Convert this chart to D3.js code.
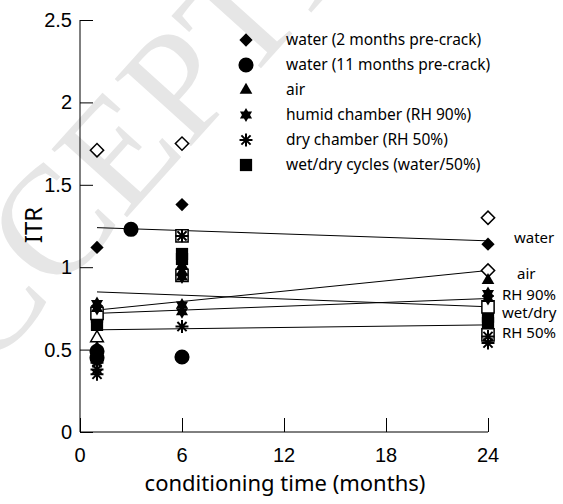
<!DOCTYPE html>
<html><head><meta charset="utf-8">
<script src="https://cdn.jsdelivr.net/npm/d3@7"></script>
<style>body{margin:0;background:#fff}svg{display:block}</style>
</head><body>
<script>
// ---------- data ----------
const xTicks = [0, 6, 12, 18, 24];
const yTicks = [0, 0.5, 1, 1.5, 2, 2.5];
const yTickLabels = ["0", "0.5", "1", "1.5", "2", "2.5"];

const diamondX = [1, 6, 24];
const diamondY = [1.12, 1.38, 1.14];
const openDiamondX = [1, 6, 24, 24];
const openDiamondY = [1.71, 1.75, 1.30, 0.98];
const circleX = [1, 1, 3, 6];
const circleY = [0.45, 0.49, 1.23, 0.455];
const triangleX = [1, 6, 6, 24];
const triangleY = [0.51, 1.01, 0.97, 0.92];
const openTriangleX = [1];
const openTriangleY = [0.57];
const starX = [1, 1, 6, 6, 6, 24, 24];
const starY = [0.78, 0.75, 0.77, 0.73, 0.94, 0.84, 0.81];
const asteriskX = [1, 1, 1, 6, 6, 24, 24];
const asteriskY = [0.42, 0.38, 0.35, 0.64, 1.19, 0.58, 0.54];
const squareX = [1, 1, 6, 6, 24, 24];
const squareY = [0.70, 0.65, 1.08, 1.05, 0.70, 0.66];
const openSquareX = [1, 6, 6, 24, 24];
const openSquareY = [0.72, 1.19, 0.95, 0.76, 0.59];

const lineNames = ["water", "air", "RH 90%", "wet/dry", "RH 50%"];
const lineX0 = 1, lineX1 = 24;
const lineStart = [1.24, 0.74, 0.72, 0.85, 0.62];
const lineEnd = [1.16, 0.98, 0.81, 0.76, 0.65];
const lineLabelY = [1.18, 0.96, 0.83, 0.72, 0.60];

const legendLabels = ["water (2 months pre-crack)", "water (11 months pre-crack)", "air",
  "humid chamber (RH 90%)", "dry chamber (RH 50%)", "wet/dry cycles (water/50%)"];

// ---------- setup ----------
const W = 563, H = 504;
const svg = d3.select("body").append("svg").attr("width", W).attr("height", H);
const x = d3.scaleLinear().domain([0, 24]).range([80, 488]);
const y = d3.scaleLinear().domain([0, 2.5]).range([432, 20]);
const textFont = "'Comic Sans MS','Noto Sans',sans-serif";

// watermark
svg.append("text").attr("transform", "translate(140,125) rotate(-48)")
  .attr("text-anchor", "middle").attr("dominant-baseline", "central")
  .attr("font-family", "'Liberation Serif',serif").attr("font-size", 155)
  .attr("fill", "#e6e6e6").text("ACCEPTED");

// custom symbol types
const star6 = { draw(ctx, size) {
  const r = Math.sqrt(size), ri = r / Math.sqrt(3);
  for (let i = 0; i < 12; i++) {
    const a = -Math.PI / 2 + i * Math.PI / 6, rr = i % 2 ? ri : r;
    const px = rr * Math.cos(a), py = rr * Math.sin(a);
    i ? ctx.lineTo(px, py) : ctx.moveTo(px, py);
  }
  ctx.closePath();
}};
const asterisk = { draw(ctx, size) {
  const r = Math.sqrt(size);
  for (let i = 0; i < 4; i++) {
    const a = i * Math.PI / 4;
    ctx.moveTo(r * Math.cos(a), r * Math.sin(a));
    ctx.lineTo(-r * Math.cos(a), -r * Math.sin(a));
  }
}};

const sym = {
  diamond: d3.symbol().type(d3.symbolSquare).size(88),
  circle: d3.symbol().type(d3.symbolCircle).size(180),
  triangle: d3.symbol().type(d3.symbolTriangle).size(70),
  star: d3.symbol().type(star6).size(49),
  asterisk: d3.symbol().type(asterisk).size(42),
  square: d3.symbol().type(d3.symbolSquare).size(150)
};

// axes
const gx = svg.append("g").attr("transform", "translate(0,432)")
  .call(d3.axisTop(x).tickValues(xTicks).tickSize(14).tickFormat(""));
gx.select(".domain").attr("d", `M${x(0)},0H${x(24)}`);
const gy = svg.append("g").attr("transform", "translate(80,0)")
  .call(d3.axisRight(y).tickValues(yTicks).tickSize(13).tickFormat(""));
gy.select(".domain").attr("d", `M0,${y(0)}V${y(2.5)}`);
svg.selectAll(".domain, .tick line").attr("stroke", "#000").attr("stroke-width", 1);

svg.append("g").selectAll("text").data(xTicks).join("text")
  .attr("x", d => x(d)).attr("y", 462).attr("text-anchor", "middle")
  .attr("font-family", "'Liberation Sans',Arial,sans-serif").attr("font-size", 20)
  .text(d => d);
svg.append("g").selectAll("text").data(yTicks).join("text")
  .attr("x", 72).attr("y", d => y(d) + 7).attr("text-anchor", "end")
  .attr("font-family", "'Liberation Sans',Arial,sans-serif").attr("font-size", 20)
  .text((d, i) => yTickLabels[i]);

svg.append("text").attr("x", 285).attr("y", 491).attr("text-anchor", "middle")
  .attr("font-family", textFont).attr("font-size", 22).text("conditioning time (months)");
svg.append("text").attr("transform", "translate(42,225) rotate(-90)").attr("text-anchor", "middle")
  .attr("font-family", textFont).attr("font-size", 24).text("ITR");

// regression lines
svg.append("g").selectAll("line").data(lineNames).join("line")
  .attr("x1", x(lineX0)).attr("x2", x(lineX1))
  .attr("y1", (d, i) => y(lineStart[i])).attr("y2", (d, i) => y(lineEnd[i]))
  .attr("stroke", "#000").attr("stroke-width", 1);

// points
function plot(xs, ys, gen, opts) {
  const g = svg.append("g");
  g.selectAll("path").data(xs).join("path")
    .attr("d", gen())
    .attr("transform", (d, i) => `translate(${x(d)},${y(ys[i])})` + (opts.rot ? " rotate(45)" : ""))
    .attr("fill", opts.fill).attr("stroke", opts.stroke || "none")
    .attr("stroke-width", opts.sw || 0);
}
plot(openDiamondX, openDiamondY, sym.diamond, { fill: "#fff", stroke: "#000", sw: 1.5, rot: true });
plot(squareX, squareY, sym.square, { fill: "#000" });
plot(openSquareX, openSquareY, sym.square, { fill: "#fff", stroke: "#000", sw: 1.5 });
plot(triangleX, triangleY, sym.triangle, { fill: "#000" });
plot(openTriangleX, openTriangleY, sym.triangle, { fill: "#fff", stroke: "#000", sw: 1.5 });
plot(starX, starY, sym.star, { fill: "#000" });
plot(asteriskX, asteriskY, sym.asterisk, { fill: "none", stroke: "#000", sw: 2 });
plot(circleX, circleY, sym.circle, { fill: "#000" });
plot(diamondX, diamondY, sym.diamond, { fill: "#000", rot: true });

// line labels
svg.append("g").selectAll("text").data(lineNames).join("text")
  .attr("x", (d, i) => i === 0 ? 514 : i === 1 ? 517 : 502)
  .attr("y", (d, i) => y(lineLabelY[i]) + 5)
  .attr("font-family", textFont).attr("font-size", 15).text(d => d);

// legend
const legendSyms = [["diamond", true], ["circle"], ["triangle"], ["star"], ["asterisk"], ["square"]];
const lg = svg.append("g");
legendLabels.forEach((lab, i) => {
  const yy = 40 + i * 25;
  const [k, rot] = legendSyms[i];
  const isAst = k === "asterisk";
  lg.append("path").attr("d", sym[k]())
    .attr("transform", `translate(246,${yy})` + (rot ? " rotate(45)" : ""))
    .attr("fill", isAst ? "none" : "#000").attr("stroke", isAst ? "#000" : "none")
    .attr("stroke-width", isAst ? 2 : 0);
  lg.append("text").attr("x", 286).attr("y", yy + 5)
    .attr("font-family", textFont).attr("font-size", 15.5).text(lab);
});
</script>
</body></html>
